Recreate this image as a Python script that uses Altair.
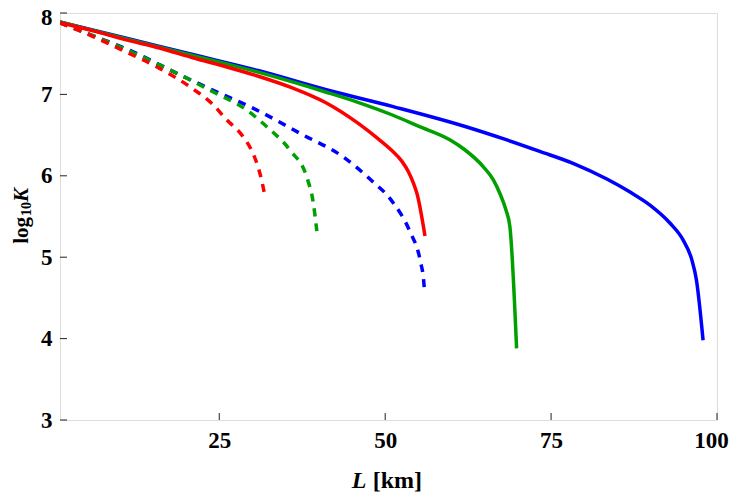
import altair as alt
import pandas as pd

# ---- data ----
L_red_solid = [1, 6, 11, 16, 21, 26, 31, 36, 41, 46, 49, 51, 52.5, 53.5, 54.3, 54.8, 56.0]
K_red_solid = [7.88, 7.78, 7.67, 7.57, 7.45, 7.34, 7.22, 7.08, 6.90, 6.64, 6.45, 6.31, 6.18, 6.05, 5.90, 5.78, 5.26]

L_green_solid = [1, 11, 21, 31, 41, 46, 51, 55, 59.8, 62, 64.8, 66.3, 67.3, 68.2, 68.8, 69.8]
K_green_solid = [7.89, 7.68, 7.48, 7.27, 7.03, 6.90, 6.75, 6.61, 6.44, 6.32, 6.11, 5.95, 5.78, 5.58, 5.37, 3.88]

L_blue_solid = [1, 11, 21, 31, 41, 51.2, 62.3, 68, 73.3, 78.4, 83.4, 86.9, 89.9, 92.9, 94.9, 96.2, 96.9, 97.9]
K_blue_solid = [7.89, 7.69, 7.49, 7.29, 7.06, 6.85, 6.60, 6.45, 6.30, 6.15, 5.96, 5.80, 5.64, 5.42, 5.21, 4.97, 4.72, 3.98]

L_red_dash = [1, 6, 11, 16, 21, 24, 26.1, 28.6, 30.0, 30.8, 31.4, 31.9]
K_red_dash = [7.88, 7.71, 7.52, 7.32, 7.07, 6.88, 6.69, 6.48, 6.29, 6.12, 5.94, 5.74]

L_green_dash = [1, 6, 11, 17.6, 24.1, 29.1, 32.2, 35.7, 38.2, 39.2, 39.7]
K_green_dash = [7.88, 7.72, 7.55, 7.30, 7.03, 6.81, 6.60, 6.31, 5.98, 5.65, 5.32]

L_blue_dash = [1, 6, 11, 19.1, 24.1, 30.6, 37.2, 43.7, 47.7, 51.2, 53.7, 55.3, 55.8, 55.9]
K_blue_dash = [7.88, 7.72, 7.56, 7.24, 7.05, 6.81, 6.52, 6.23, 5.96, 5.67, 5.32, 4.95, 4.71, 4.61]

x_ticks = [25, 50, 75, 100]
y_ticks = [3, 4, 5, 6, 7, 8]

RED = "#ff0000"
GREEN = "#00a000"
BLUE = "#0000ff"
FONT = "Liberation Serif"

W, H = 657, 407

xscale = alt.Scale(domain=[1, 100], nice=False, zero=False)
yscale = alt.Scale(domain=[3, 8], nice=False, zero=False)

xaxis = alt.Axis(values=x_ticks, ticks=False, domain=False, grid=False, title=None,
                 labelFont=FONT, labelFontWeight="bold", labelFontSize=23, labelColor="black",
                 labelPadding=9, labelFlush=False, labelOverlap=False,
                 labelOffset={"condition": {"test": "datum.value == 100", "value": -6}, "value": 0})
yaxis = alt.Axis(values=y_ticks, ticks=False, domain=False, grid=False, title=None,
                 labelFont=FONT, labelFontWeight="bold", labelFontSize=23, labelColor="black",
                 labelPadding=8, labelFlush=False, labelOverlap=False,
                 labelOffset={"condition": {"test": "datum.value == 8", "value": 4}, "value": 0})


def line(xs, ys, color, dashed):
    df = pd.DataFrame({"L": xs, "K": ys})
    kw = dict(color=color, strokeWidth=3.5, clip=True, interpolate="monotone")
    if dashed:
        kw["strokeDash"] = [8, 7]
    return alt.Chart(df).mark_line(**kw).encode(
        x=alt.X("L:Q", scale=xscale, axis=xaxis),
        y=alt.Y("K:Q", scale=yscale, axis=yaxis),
    )


layers = [
    line(L_blue_dash, K_blue_dash, BLUE, True),
    line(L_green_dash, K_green_dash, GREEN, True),
    line(L_red_dash, K_red_dash, RED, True),
    line(L_blue_solid, K_blue_solid, BLUE, False),
    line(L_green_solid, K_green_solid, GREEN, False),
    line(L_red_solid, K_red_solid, RED, False),
]

# inward ticks
xt = alt.Chart(pd.DataFrame({"v": x_ticks})).mark_rule(color="#222", strokeWidth=1).encode(
    x=alt.X("v:Q", scale=xscale, axis=xaxis), y=alt.value(H - 7), y2=alt.value(H))
yt = alt.Chart(pd.DataFrame({"v": y_ticks})).mark_rule(color="#222", strokeWidth=1).encode(
    y=alt.Y("v:Q", scale=yscale, axis=yaxis), x=alt.value(0), x2=alt.value(7))

one = pd.DataFrame({"a": [0]})


def txt(s, x, y, size=24, italic=False, angle=0, align="left"):
    kw = dict(text=s, font=FONT, fontWeight="bold", fontSize=size, color="black",
              align=align, baseline="alphabetic")
    if italic:
        kw["fontStyle"] = "italic"
    if angle:
        kw["angle"] = angle
    return alt.Chart(one).mark_text(**kw).encode(x=alt.value(x), y=alt.value(y))


titles = [
    txt("L", 291.7, 475.3, italic=True),
    txt("[km]", 312.7, 475.3),
    txt("log", -32, 204, size=21, angle=270, align="right"),
    txt("10", -29, 203, size=14, angle=270),
    txt("K", -32, 189, size=21, italic=True, angle=270),
]

chart = alt.layer(*layers, xt, yt, *titles).properties(
    width=W, height=H,
    autosize=alt.AutoSizeParams(type="none"),
    padding={"left": 52, "top": 5, "right": 12, "bottom": 75},
).configure_view(stroke="#666666", strokeWidth=1).configure(background="white")

chart.save("out.html", embed_options={"renderer": "svg", "actions": False})
